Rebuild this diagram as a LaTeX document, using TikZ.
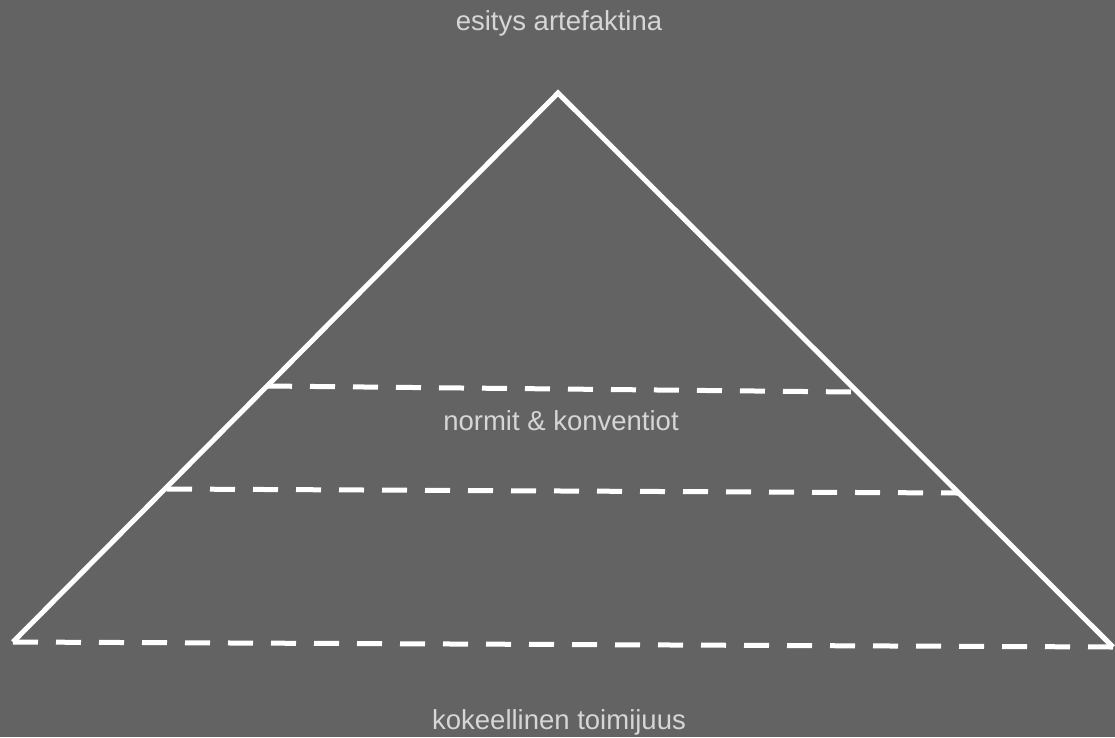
\documentclass[tikz,border=0pt]{standalone}
\usepackage{fontspec}
\setmainfont{Liberation Sans}
\definecolor{bg}{HTML}{636363}
\definecolor{txt}{HTML}{D6D6D6}
\begin{document}
\begin{tikzpicture}[x=1pt,y=-1pt,
  edge/.style={draw=white,line width=5pt,line join=miter},
  dline/.style={draw=white,line width=5pt,dash pattern=on 25pt off 18pt},
  lbl/.style={text=txt,font=\fontsize{27.5}{32}\selectfont,inner sep=0pt}]
\fill[bg] (0,0) rectangle (1115,737);
\useasboundingbox (0,0) rectangle (1115,737);
\coordinate (apex) at (558,93);
\coordinate (bl) at (13,642);
\coordinate (br) at (1113,647);
\coordinate (l1) at (267,386);
\coordinate (r1) at (853,392);
\coordinate (l2) at (167,489);
\coordinate (r2) at (958,493);
\draw[edge] (bl) -- (apex) -- (br);
\draw[dline] (l1) -- (r1);
\draw[dline] (l2) -- (r2);
\draw[dline] (bl) -- (br);
\node[lbl] (top) at (559,23) {esitys artefaktina};
\node[lbl] (mid) at (561,421) {normit \& konventiot};
\node[lbl] (bot) at (559,722) {kokeellinen toimijuus};
\end{tikzpicture}
\end{document}
